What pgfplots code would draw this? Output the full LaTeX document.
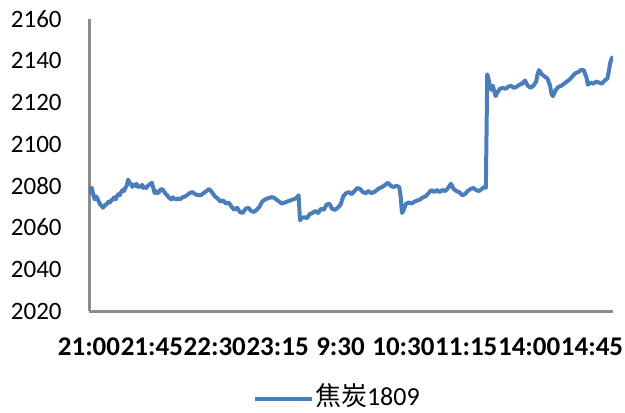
\documentclass[border=0pt]{standalone}
\usepackage{fontspec}
\setmainfont{Carlito}
\newfontfamily\cjk{Noto Sans CJK SC}
\usepackage{pgfplots}
\pgfplotsset{compat=1.18}
\definecolor{ser}{HTML}{4A7EBB}
\definecolor{axg}{HTML}{8C8C8C}
\begin{document}
\begin{tikzpicture}
\useasboundingbox (-44.5pt,-50.5pt) rectangle (268pt,155.5pt);
\begin{axis}[at={(0,0)}, anchor=south west, scale only axis,
  width=262pt, height=146pt,
  xmin=0, xmax=375, ymin=2020, ymax=2160,
  axis x line=bottom, axis y line=left,
  axis line style={axg, line width=1.5pt, -},
  ytick={2020,2040,2060,2080,2100,2120,2140,2160},
  yticklabels={2020,2040,2060,2080,2100,2120,2140,2160},
  xtick={0,45,90,135,180,225,270,315,360},
  xticklabels={21:00,21:45,22:30,23:15,9:30,10:30,11:15,14:00,14:45},
  major tick length=0pt, tick style={draw=none},
  yticklabel style={font=\fontsize{12.5}{14}\selectfont, anchor=east, inner sep=0pt, xshift=-13.5pt},
  xticklabel style={font=\fontsize{13.5}{15}\selectfont\bfseries, anchor=base, inner sep=0pt, yshift=-22pt},
  legend style={at={(0.313,0)}, anchor=west, yshift=-42.5pt, draw=none, fill=none,
    inner sep=0pt, font=\fontsize{13}{15}\selectfont, nodes={inner sep=0.5pt}},
  legend image code/.code={\draw[ser, line width=1.8pt] (0pt,-1.5pt) -- (28.5pt,-1.5pt);},
]
\addplot[ser, line width=2pt, line join=round] coordinates {
(0,2076)(1,2078.5)(2,2079)(3,2076)(4,2073.5)(5,2075)(6,2074)(7,2072.5)(8,2071)(9,2070.5)
(10,2069.5)(11,2070.5)(12,2071)(13,2071.5)(14,2072.5)(15,2072)(16,2073)(17,2073.5)(18,2074.5)(19,2073.5)
(20,2075)(21,2076)(22,2075.5)(23,2077)(24,2078)(25,2077.5)(26,2079)(27,2080)(28,2083)(29,2081.5)
(30,2081)(31,2079.5)(32,2080.5)(33,2080)(34,2081)(35,2079.5)(36,2080)(37,2079.5)(38,2080.5)(39,2079)
(40,2079.5)(41,2079)(42,2080)(43,2080.5)(44,2081)(45,2081.5)(46,2079)(47,2076.5)(48,2077.5)(49,2076.5)
(50,2077)(51,2078)(52,2078.5)(53,2078)(54,2077)(55,2076)(56,2075.5)(57,2074.5)(58,2074)(59,2073.5)
(60,2074.5)(62,2073.5)(64,2074)(65,2073.5)(67,2074.5)(69,2075)(70,2075.5)(72,2076.5)(74,2077)(76,2076)
(78,2075.5)(80,2075.5)(82,2076.5)(84,2077.5)(86,2078.5)(88,2077)(90,2075)(92,2074)(94,2072.5)(96,2073)
(98,2071.5)(100,2072)(102,2070)(104,2068.5)(106,2069.5)(108,2067.5)(110,2067)(112,2069)(114,2069.5)(116,2068)
(118,2067.5)(120,2068.5)(122,2070)(124,2072.5)(126,2073.5)(128,2074)(130,2074.5)(132,2074.5)(134,2073.5)(136,2072.5)
(138,2071.5)(140,2072)(142,2072.5)(144,2073)(146,2073.5)(148,2074)(150,2075.5)
(151,2063.5)(152,2064.5)(154,2065)(156,2064.5)(158,2066.5)(160,2067)(162,2068)(164,2067)(166,2069)(168,2068.5)
(170,2071)(172,2071.5)(174,2069)(176,2068.5)(178,2069.5)(180,2071)(182,2075)(184,2076.5)(186,2077)(188,2076)
(190,2077.5)(192,2079)(194,2078.5)(196,2077)(198,2076.5)(200,2077.5)(202,2076.5)(204,2077)(206,2078)(208,2079)
(210,2079.5)(212,2080.5)(214,2081.5)(216,2080)(218,2079.5)(220,2080)(222,2079.5)(223,2075)(224,2067)
(225,2068)(226,2070)(227,2071.5)(229,2072)(231,2071.5)(233,2072.5)(235,2073)(237,2073.5)(239,2074.5)(241,2075)
(243,2076.5)(245,2078)(247,2077)(249,2078)(251,2077)(253,2078)(255,2077.5)(257,2079)(259,2081)(261,2078.5)
(263,2077.5)(265,2077)(267,2075.5)(269,2076)(271,2077.5)(273,2078.5)(275,2079)(277,2078)(279,2077.5)(281,2078.5)
(283,2079.5)(284,2079)
(285,2133.5)(286,2131)(287,2127.5)(288,2126)(289,2128)(290,2125.5)(291,2123)(292,2124.5)(294,2126.5)(296,2127)
(298,2126.5)(300,2127.5)(302,2128)(304,2127)(306,2127.5)(308,2128.5)(310,2129)(312,2130.5)(314,2128)(316,2127)
(318,2128)(320,2130)(321,2133.5)(322,2135.5)(324,2133.5)(326,2132.5)(328,2131.5)(330,2128)(331,2124)(332,2123)
(334,2126)(336,2127.5)(338,2128)(340,2129)(342,2130)(344,2131)(346,2132.5)(348,2134)(350,2134.5)(352,2135.5)
(354,2135.5)(356,2132)(357,2128.5)(359,2129.5)(361,2129)(363,2130)(365,2129.5)(367,2129)(369,2130.5)(371,2131.5)
(372,2135)(373,2139)(374,2141)(375,2142)
};
\addlegendentry{{\cjk 焦炭}1809}
\end{axis}
\end{tikzpicture}
\end{document}
